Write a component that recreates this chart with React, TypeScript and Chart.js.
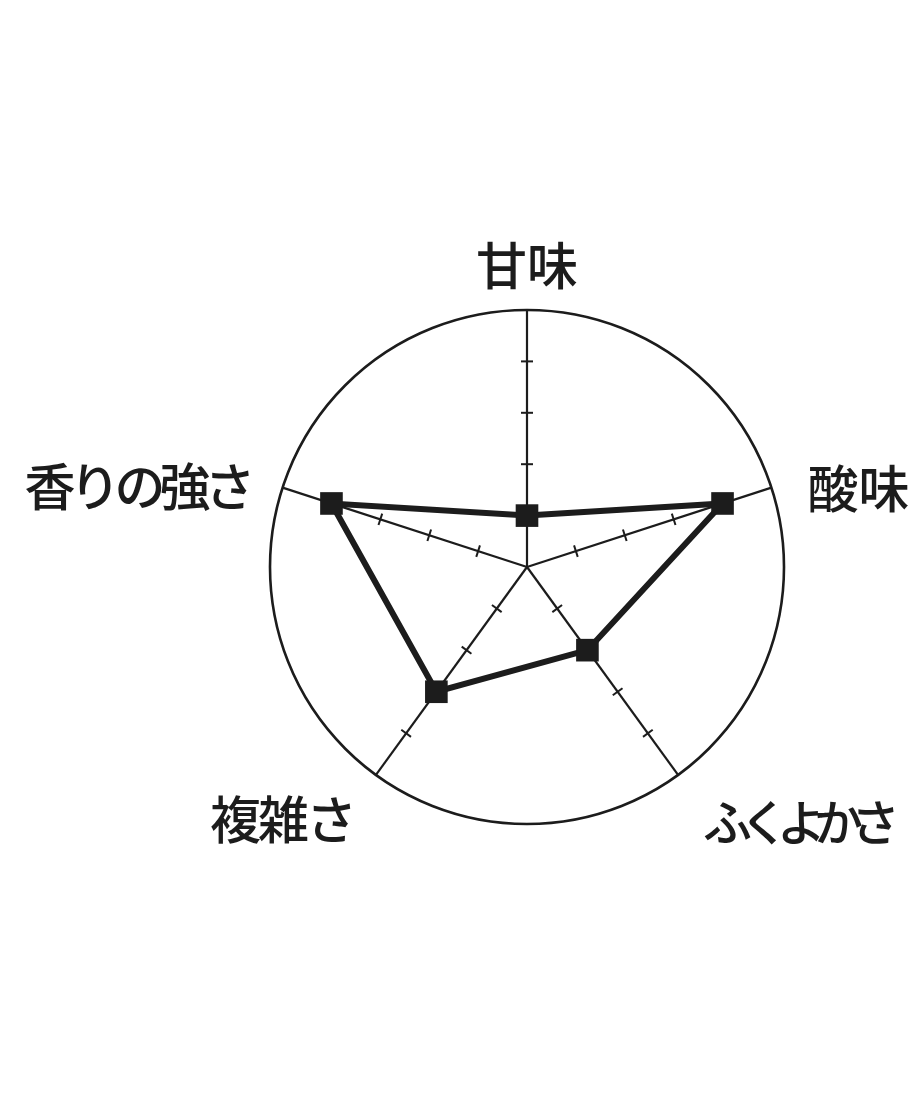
import { useEffect, useRef } from "react";
import { Chart, registerables } from "chart.js";

Chart.register(...registerables);

// radar axes, clockwise from the top
const categories = ["甘味", "酸味", "ふくよかさ", "複雑さ", "香りの強さ"];
const values = [1, 4, 2, 3, 4];
const scaleMax = 5;
const tickValues = [1, 2, 3, 4];

// where each axis label sits relative to the end of its axis line
const labelOffsets = [
    [0, -44],
    [36, 1],
    [25, 47],
    [-19, 45],
    [-27, -1],
];
// the original face sets kana proportionally, so tighten those labels
const labelSpacing = [0, 0, -12, -3, -6];
const labelSizes = [51, 51, 49, 51, 51];

const INK = "#1c1c1c";

// small cross marks on every axis
const axisTicks = {
    id: "axisTicks",
    beforeDatasetsDraw(chart: any) {
        const scale = chart.scales.r;
        const ctx = chart.ctx;
        ctx.save();
        ctx.strokeStyle = INK;
        ctx.lineWidth = 2;
        categories.forEach((_, i) => {
            tickValues.forEach((v) => {
                const p = scale.getPointPositionForValue(i, v);
                const nx = -Math.sin(p.angle);
                const ny = Math.cos(p.angle);
                ctx.beginPath();
                ctx.moveTo(p.x - nx * 6, p.y - ny * 6);
                ctx.lineTo(p.x + nx * 6, p.y + ny * 6);
                ctx.stroke();
            });
        });
        ctx.restore();
    },
};

// axis names, placed off the end of each axis
const axisLabels = {
    id: "axisLabels",
    afterDraw(chart: any) {
        const scale = chart.scales.r;
        const ctx = chart.ctx;
        ctx.save();
        ctx.fillStyle = INK;
        ctx.textBaseline = "middle";
        categories.forEach((name, i) => {
            const end = scale.getPointPosition(i, scale.drawingArea);
            const [dx, dy] = labelOffsets[i];
            ctx.font = `500 ${labelSizes[i]}px 'Noto Sans CJK JP', 'Noto Sans', sans-serif`;
            ctx.letterSpacing = labelSpacing[i] + "px";
            ctx.textAlign = "left";
            const w = ctx.measureText(name).width - labelSpacing[i];
            const x = dx === 0 ? end.x - w / 2 : dx > 0 ? end.x + dx : end.x + dx - w;
            ctx.fillText(name, x, end.y + dy);
        });
        ctx.restore();
    },
};

export default function App() {
    const canvasRef = useRef<HTMLCanvasElement | null>(null);

    useEffect(() => {
        const canvas = canvasRef.current;
        if (!canvas) return;
        const chart = new Chart(canvas, {
            type: "radar",
            data: {
                labels: categories,
                datasets: [
                    {
                        data: values,
                        borderColor: INK,
                        borderWidth: 6,
                        fill: false,
                        pointStyle: "rect",
                        pointRadius: 16,
                        pointBackgroundColor: INK,
                        pointBorderColor: INK,
                        pointBorderWidth: 0,
                    },
                ],
            },
            options: {
                responsive: true,
                maintainAspectRatio: false,
                animation: false,
                layout: { padding: { left: 262, right: 128, top: 302, bottom: 272 } },
                plugins: {
                    legend: { display: false },
                    tooltip: { enabled: false },
                },
                scales: {
                    r: {
                        min: 0,
                        max: scaleMax,
                        ticks: { display: false, stepSize: 1 },
                        grid: {
                            circular: true,
                            lineWidth: 2.6,
                            color: (c: any) =>
                                c.tick && c.tick.value === scaleMax ? INK : "transparent",
                        },
                        angleLines: { color: INK, lineWidth: 2.2 },
                        pointLabels: { display: false },
                    },
                },
            },
            plugins: [axisTicks, axisLabels],
        });
        return () => chart.destroy();
    }, []);

    return (
        <div style={{ position: "relative", width: 904, height: 1088 }}>
            <canvas ref={canvasRef}></canvas>
        </div>
    );
}
